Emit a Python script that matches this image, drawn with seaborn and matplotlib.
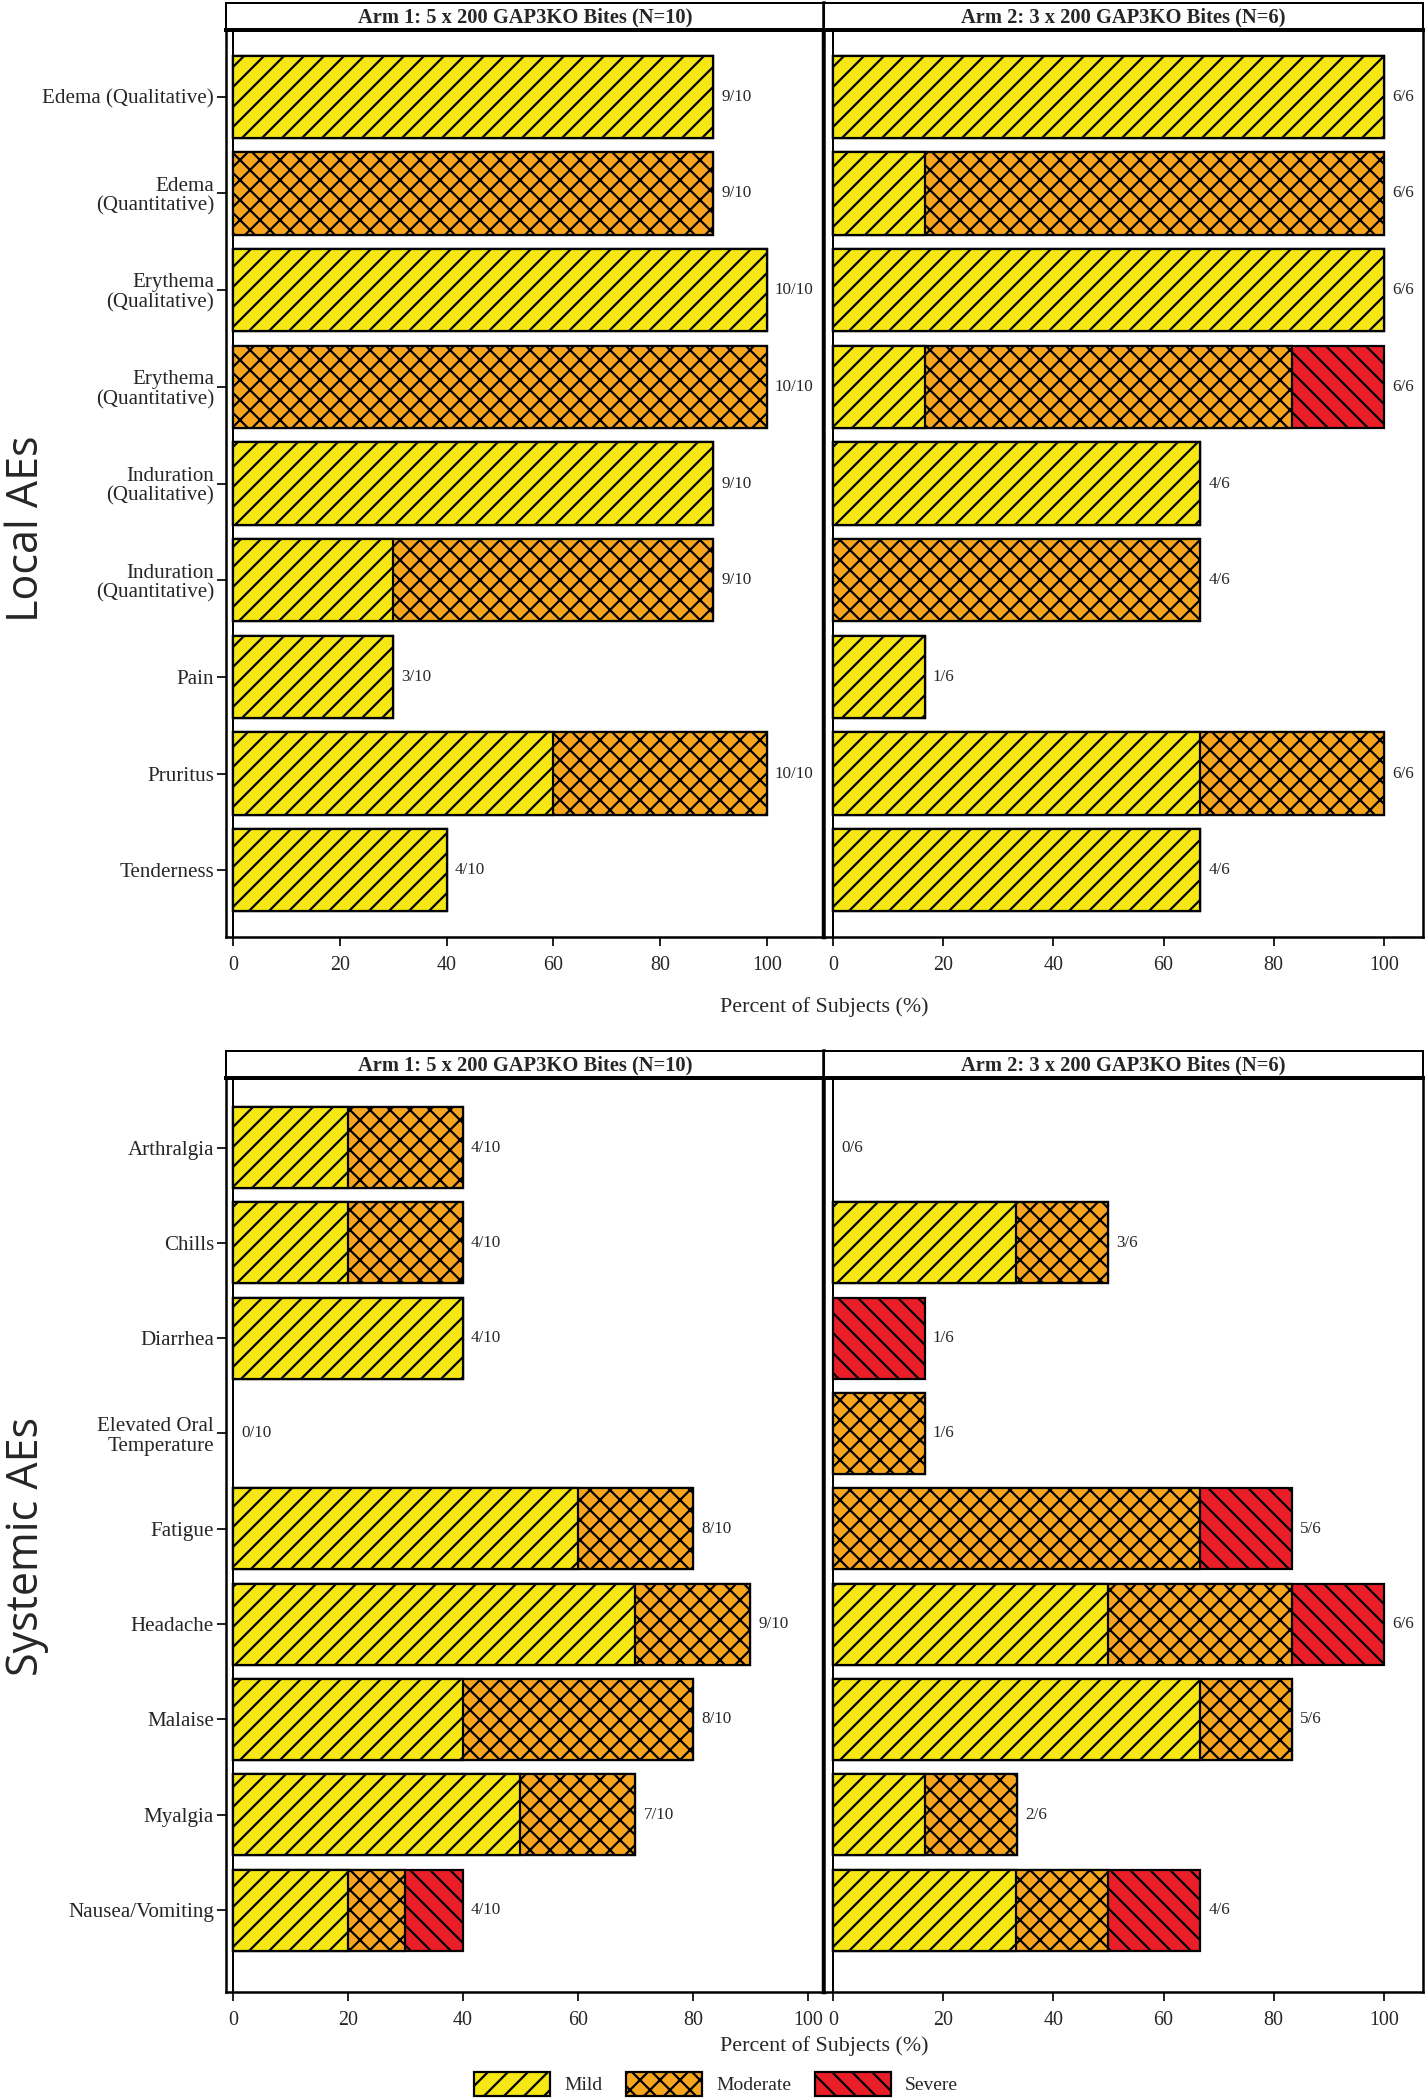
import matplotlib
matplotlib.use("Agg")
import matplotlib.pyplot as plt
from matplotlib.patches import Patch
import seaborn as sns
import pandas as pd

# ---------------- data (percent of subjects) ----------------
local_cats = ["Edema (Qualitative)", "Edema\n(Quantitative)", "Erythema\n(Qualitative)",
              "Erythema\n(Quantitative)", "Induration\n(Qualitative)", "Induration\n(Quantitative)",
              "Pain", "Pruritus", "Tenderness"]
local_arm1_mild = [90, 0, 100, 0, 90, 30, 30, 60, 40]
local_arm1_mod = [0, 90, 0, 100, 0, 60, 0, 40, 0]
local_arm1_sev = [0, 0, 0, 0, 0, 0, 0, 0, 0]
local_arm1_lab = ["9/10", "9/10", "10/10", "10/10", "9/10", "9/10", "3/10", "10/10", "4/10"]
local_arm2_mild = [100, 16.7, 100, 16.7, 66.7, 0, 16.7, 66.7, 66.7]
local_arm2_mod = [0, 83.3, 0, 66.7, 0, 66.7, 0, 33.3, 0]
local_arm2_sev = [0, 0, 0, 16.7, 0, 0, 0, 0, 0]
local_arm2_lab = ["6/6", "6/6", "6/6", "6/6", "4/6", "4/6", "1/6", "6/6", "4/6"]

sys_cats = ["Arthralgia", "Chills", "Diarrhea", "Elevated Oral\nTemperature", "Fatigue",
            "Headache", "Malaise", "Myalgia", "Nausea/Vomiting"]
sys_arm1_mild = [20, 20, 40, 0, 60, 70, 40, 50, 20]
sys_arm1_mod = [20, 20, 0, 0, 20, 20, 40, 20, 10]
sys_arm1_sev = [0, 0, 0, 0, 0, 0, 0, 0, 10]
sys_arm1_lab = ["4/10", "4/10", "4/10", "0/10", "8/10", "9/10", "8/10", "7/10", "4/10"]
sys_arm2_mild = [0, 33.3, 0, 0, 0, 50, 66.7, 16.7, 33.3]
sys_arm2_mod = [0, 16.7, 0, 16.7, 66.7, 33.3, 16.7, 16.7, 16.7]
sys_arm2_sev = [0, 0, 16.7, 0, 16.7, 16.7, 0, 0, 16.7]
sys_arm2_lab = ["0/6", "3/6", "1/6", "1/6", "5/6", "6/6", "5/6", "2/6", "4/6"]

arm_titles = ["Arm 1: 5 x 200 GAP3KO Bites (N=10)", "Arm 2: 3 x 200 GAP3KO Bites (N=6)"]
severity = ["Mild", "Moderate", "Severe"]
xticks = [0, 20, 40, 60, 80, 100]

# ---------------- styling ----------------
DPI = 120
PT = 72.0 / DPI  # points per pixel
YELLOW = "#F5E614"
ORANGE = "#F7A51E"
RED = "#EA1E28"
HATCH = {"Mild": "//", "Moderate": "xx", "Severe": "\\\\"}
COLOR = {"Mild": YELLOW, "Moderate": ORANGE, "Severe": RED}

sns.set_theme(style="white")
plt.rcParams["font.family"] = ["Liberation Serif", "DejaVu Serif"]
plt.rcParams["hatch.linewidth"] = 2.2 * PT
plt.rcParams["axes.linewidth"] = 2.5 * PT

W, H = 1428, 2100
fig = plt.figure(figsize=(W / DPI, H / DPI), dpi=DPI)


def fx(px):
    return px / W


def fy(px):
    return 1 - px / H


panels = [
    dict(cats=local_cats, top=30, bottom=937,
         arms=[(local_arm1_mild, local_arm1_mod, local_arm1_sev, local_arm1_lab, (-1.31, 110.7)),
               (local_arm2_mild, local_arm2_mod, local_arm2_sev, local_arm2_lab, (-1.63, 107.1))],
         ylim=(8.69, -0.69), label="Local AEs", label_y=529, xlabel_y=1007, head_top=3),
    dict(cats=sys_cats, top=1078, bottom=1992,
         arms=[(sys_arm1_mild, sys_arm1_mod, sys_arm1_sev, sys_arm1_lab, (-1.22, 102.8)),
               (sys_arm2_mild, sys_arm2_mod, sys_arm2_sev, sys_arm2_lab, (-1.63, 107.1))],
         ylim=(8.86, -0.73), label="Systemic AEs", label_y=1546, xlabel_y=2046, head_top=1051),
]
arm_x = [(226, 824), (824, 1423)]

for p in panels:
    for ai, (mild, mod, sev, labs, xlim) in enumerate(p["arms"]):
        x0, x1 = arm_x[ai]
        ax = fig.add_axes([fx(x0), fy(p["bottom"]), fx(x1 - x0), (p["bottom"] - p["top"]) / H])
        df = pd.DataFrame({"cat": p["cats"], "Mild": mild, "Moderate": mod, "Severe": sev})
        df["c_mild"] = df["Mild"]
        df["c_mod"] = df["Mild"] + df["Moderate"]
        df["c_sev"] = df["Mild"] + df["Moderate"] + df["Severe"]
        # draw cumulative totals back to front so that segments stack
        for col, sev_name in [("c_sev", "Severe"), ("c_mod", "Moderate"), ("c_mild", "Mild")]:
            sub = df[df[col] > 0]
            sns.barplot(data=sub, x=col, y="cat", order=p["cats"], orient="h",
                        color=COLOR[sev_name], saturation=1, hatch=HATCH[sev_name],
                        edgecolor="black", linewidth=2.2 * PT, width=0.85,
                        errorbar=None, ax=ax)
        for i, (tot, lab) in enumerate(zip(df["c_sev"], labs)):
            ax.annotate(lab, xy=(tot, i), xytext=(8 * PT, 0), textcoords="offset points",
                        ha="left", va="center", fontsize=17 * PT)
        ax.axvline(0, color="black", lw=2.0 * PT, zorder=5)
        ax.set_xlim(*xlim)
        ax.set_ylim(*p["ylim"])
        ax.set_xticks(xticks)
        ax.set_xticklabels([str(t) for t in xticks], fontsize=20 * PT)
        ax.tick_params(axis="x", direction="out", length=9 * PT, width=2 * PT,
                       bottom=True, pad=10 * PT)
        ax.set_xlabel("")
        ax.set_ylabel("")
        if ai == 0:
            ax.tick_params(axis="y", direction="out", length=9 * PT, width=2 * PT,
                           left=True, pad=3 * PT, labelsize=21 * PT)
            for t in ax.get_yticklabels():
                t.set_linespacing(1.05)
        else:
            ax.tick_params(axis="y", left=False, labelleft=False)
        for s in ax.spines.values():
            s.set_color("black")
            s.set_linewidth(2.5 * PT)
            s.set_visible(True)
        if ai == 0:
            ax.spines["right"].set_linewidth(4.5 * PT)
        # header strip
        hax = fig.add_axes([fx(x0), fy(p["top"]), fx(x1 - x0), (p["top"] - p["head_top"]) / H])
        hax.set_xticks([])
        hax.set_yticks([])
        for name, s in hax.spines.items():
            s.set_color("black")
            s.set_linewidth(2.0 * PT)
        hax.spines["bottom"].set_linewidth(4.0 * PT)
        if ai == 0:
            hax.spines["right"].set_linewidth(3.5 * PT)
        hax.text(0.5, 0.45, arm_titles[ai], ha="center", va="center", fontsize=20.5 * PT,
                 fontweight="bold", transform=hax.transAxes)
    fig.text(fx(824), fy(p["xlabel_y"]), "Percent of Subjects (%)", ha="center", va="center",
             fontsize=22 * PT)
    fig.text(fx(27), fy(p["label_y"]), p["label"], rotation=90, ha="center", va="center",
             fontsize=43 * PT, family=["Open Sans", "DejaVu Sans"])

handles = [Patch(facecolor=COLOR[s], edgecolor="black", hatch=HATCH[s], linewidth=2.2 * PT)
           for s in severity]
fig.legend(handles, severity, loc="center", bbox_to_anchor=(fx(716), fy(2084)), ncol=3,
           frameon=False, fontsize=19.5 * PT, handlelength=3.9, handleheight=1.5,
           handletextpad=0.72, columnspacing=1.2, borderpad=0)

fig.savefig("out.png", dpi=DPI)
